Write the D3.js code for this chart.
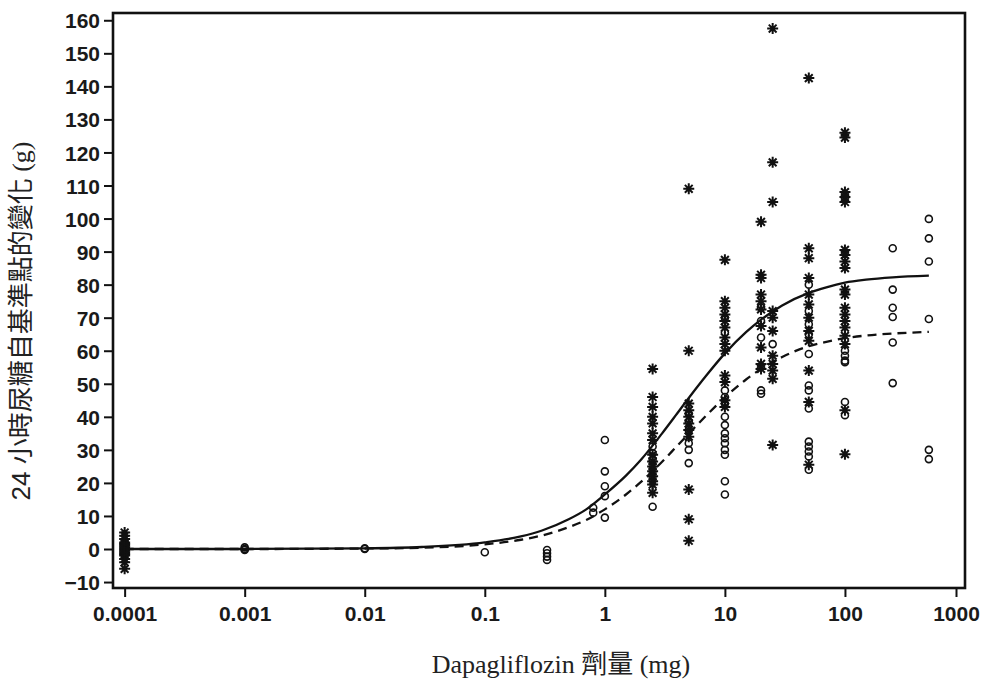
<!DOCTYPE html>
<html>
<head>
<meta charset="utf-8">
<script src="https://cdn.jsdelivr.net/npm/d3@7"></script>
<style>
  html, body { margin: 0; padding: 0; background: #fff; }
  svg { display: block; }
  .tick text { font-family: "Liberation Sans", Arial, sans-serif; font-weight: bold; font-size: 21px; fill: #1a1a1a; }
</style>
</head>
<body>
<svg id="chart" width="982" height="679"></svg>
<script>
// Dose axis ticks (mg) and response axis ticks (g)
const doseTicks = [0.0001, 0.001, 0.01, 0.1, 1, 10, 100, 1000];
const doseTickLabels = ["0.0001", "0.001", "0.01", "0.1", "1", "10", "100", "1000"];
const valueTicks = [-10, 0, 10, 20, 30, 40, 50, 60, 70, 80, 90, 100, 110, 120, 130, 140, 150, 160];

// Individual responses, asterisk markers, grouped by dose
const starDoses = [0.0001, 2.5, 5, 10, 20, 25, 50, 100];
const starValues = [
  [5, 4, 3, 2, 1.5, 1, 0.5, 0, -0.5, -1, -1.5, -2, -3, -4, -6],
  [54.5, 46, 43, 40, 38, 35, 33, 28.5, 26.5, 25, 23.5, 22, 20.5, 19.5, 17],
  [109, 60, 44, 42, 40, 38, 36, 34, 18, 9, 2.5],
  [87.5, 75, 73, 71, 69, 67, 64, 62, 60, 52.5, 50.5, 45, 43],
  [99, 83, 82, 77, 75, 72.5, 67.5, 61, 56, 54.5],
  [157.5, 117, 105, 72, 70, 66, 58.5, 56, 54, 51.5, 31.5],
  [142.5, 91, 88, 82, 77, 74, 70, 66, 63, 54, 44.5, 25.5],
  [126, 124.5, 108, 106.5, 105, 90.5, 89, 87, 85, 78.5, 77, 73, 71, 69, 67, 64.5, 62, 42, 28.7]
];

// Individual responses, open-circle markers, grouped by dose
const circleDoses = [0.0001, 0.001, 0.01, 0.1, 0.33, 0.8, 1, 2.5, 5, 10, 20, 25, 50, 100, 250, 500];
const circleValues = [
  [2, 1, 0, -1],
  [0.5, 0, -0.3],
  [0, 0.2],
  [-1],
  [-0.3, -1.3, -2.3, -3.3],
  [12.5, 11],
  [33, 23.5, 19, 16, 9.5],
  [31, 29, 27, 12.8],
  [41, 38.5, 36, 32, 30, 26],
  [70, 65.5, 48, 46, 44, 40, 37.5, 35, 33.5, 32, 30, 28.5, 20.5, 16.5],
  [73, 69, 64, 48, 47],
  [62],
  [80, 72, 68, 65, 59, 49.5, 48, 42.5, 32.5, 31, 29.5, 28, 24],
  [60, 58.5, 57, 56.5, 44.5, 40.5],
  [91, 78.5, 73, 70.2, 62.5, 50.2],
  [99.9, 94, 87, 69.6, 30, 27.2]
];

// Fitted dose-response curves
const curveDoses = [0.0001, 0.001, 0.01, 0.03, 0.1, 0.2, 0.3, 0.5, 0.7, 1, 1.5, 2, 3, 4, 5, 7, 10, 15, 20, 30, 50, 70, 100, 150, 250, 500];
const solidFit  = [0, 0, 0.2, 0.6, 2.0, 3.8, 5.6, 9.0, 12.0, 16.5, 22.2, 27, 35, 41, 45.7, 52.5, 59.2, 65.6, 69.4, 73.7, 77.5, 79.2, 80.6, 81.5, 82.2, 82.7];
const dashedFit = [0, 0, 0.15, 0.4, 1.4, 2.8, 4.1, 6.6, 8.8, 12.0, 16.5, 20.3, 26.4, 31.2, 34.9, 40.4, 45.9, 51.3, 54.5, 58.1, 61.4, 62.7, 63.8, 64.6, 65.2, 65.7];

const svg = d3.select("#chart");
const plotLeft = 113, plotRight = 965, plotTop = 13, plotBottom = 588;

const x = d3.scaleLog().domain([0.00008, 1000]).range([plotLeft, plotRight]);
const y = d3.scaleLinear().domain([-11.8, 162.2]).range([plotBottom, plotTop]);

// Axes
const xAxis = d3.axisBottom(x)
  .tickValues(doseTicks)
  .tickFormat((d, i) => doseTickLabels[i])
  .tickSize(9).tickPadding(9);
const yAxis = d3.axisLeft(y)
  .tickValues(valueTicks)
  .tickFormat(d3.format("d"))
  .tickSize(9).tickPadding(4);

const gx = svg.append("g").attr("transform", `translate(0,${plotBottom})`).call(xAxis);
const gy = svg.append("g").attr("transform", `translate(${plotLeft},0)`).call(yAxis);
[gx, gy].forEach(g => {
  g.select(".domain").remove();
  g.selectAll(".tick line").attr("stroke", "#111").attr("stroke-width", 2);
});
gy.selectAll(".tick text").attr("dy", "0.36em");
// the last dose tick sits just inside the frame's corner
gx.selectAll(".tick").filter(d => d === 1000)
  .attr("transform", `translate(${x(1000) - 8.5},0)`);

// Frame
svg.append("rect")
  .attr("x", plotLeft).attr("y", plotTop)
  .attr("width", plotRight - plotLeft).attr("height", plotBottom - plotTop)
  .attr("fill", "none").attr("stroke", "#111").attr("stroke-width", 2.6);

// Fitted curves
const line = d3.line()
  .x((d, i) => x(curveDoses[i]))
  .y(d => y(d))
  .curve(d3.curveMonotoneX);

svg.append("path").datum(solidFit)
  .attr("d", line).attr("fill", "none")
  .attr("stroke", "#111").attr("stroke-width", 2.3);
svg.append("path").datum(dashedFit)
  .attr("d", line).attr("fill", "none")
  .attr("stroke", "#111").attr("stroke-width", 2.3)
  .attr("stroke-dasharray", "9,6");

// Markers
const flatten = (doses, values) =>
  doses.flatMap((dose, i) => values[i].map(v => ({ dose, v })));

const armLen = 5.5;
const starPath = (() => {
  let p = "";
  for (let k = 0; k < 4; k++) {
    const a = k * Math.PI / 4;
    const dx = armLen * Math.cos(a), dy = armLen * Math.sin(a);
    p += `M${-dx},${-dy}L${dx},${dy}`;
  }
  return p;
})();

svg.append("g").selectAll("circle")
  .data(flatten(circleDoses, circleValues))
  .join("circle")
  .attr("cx", d => x(d.dose)).attr("cy", d => y(d.v))
  .attr("r", 3.5)
  .attr("fill", "none").attr("stroke", "#111").attr("stroke-width", 1.6);

svg.append("g").selectAll("path")
  .data(flatten(starDoses, starValues))
  .join("path")
  .attr("transform", d => `translate(${x(d.dose)},${y(d.v)})`)
  .attr("d", starPath)
  .attr("stroke", "#111").attr("stroke-width", 2).attr("fill", "none");

// Axis titles
const yTitle = svg.append("text")
  .attr("transform", "translate(30,321) rotate(-90)")
  .attr("text-anchor", "middle")
  .attr("font-size", 26).attr("fill", "#222");
yTitle.append("tspan").attr("font-family", "'Liberation Sans', sans-serif").text("24 ");
yTitle.append("tspan").attr("font-family", "'Noto Sans CJK TC', sans-serif").text("小時尿糖自基準點的變化");
yTitle.append("tspan").attr("font-family", "'Liberation Serif', serif").text(" (g)");

const xTitle = svg.append("text")
  .attr("x", 561).attr("y", 673)
  .attr("text-anchor", "middle")
  .attr("font-size", 26).attr("fill", "#222");
xTitle.append("tspan").attr("font-family", "'Liberation Serif', serif").text("Dapagliflozin ");
xTitle.append("tspan").attr("font-family", "'Noto Sans CJK TC', sans-serif").text("劑量");
xTitle.append("tspan").attr("font-family", "'Liberation Serif', serif").text(" (mg)");
</script>
</body>
</html>
